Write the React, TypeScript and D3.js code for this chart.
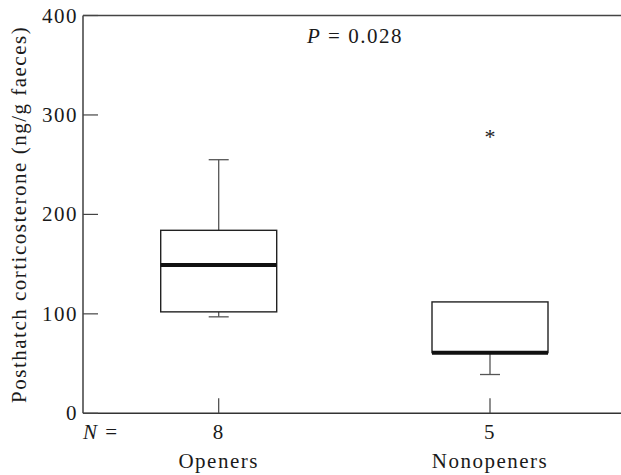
import * as d3 from 'd3'
import { useEffect, useRef } from 'react'

// box plot values (ng/g faeces)
const categories = ['Openers', 'Nonopeners']
const sampleSizes = [8, 5]
const whiskerLow = [97, 39]
const quartile1 = [102, 61]
const medians = [149, 61]
const quartile3 = [184, 112]
const whiskerHigh = [255, 112]
const outliers = [[], [282]]
const yTicks = [0, 100, 200, 300, 400]

const width = 621
const height = 475
const font = '"Liberation Serif", serif'
const fontSize = '21px'
const tracking = '1.5px'

export default function App () {
    const svgRef = useRef<SVGSVGElement>(null)

    useEffect(() => {
        const svg = d3.select(svgRef.current)
        svg.selectAll('*').remove()

        const left = 83
        const y = d3.scaleLinear().domain([0, 400]).range([413.3, 15.5])
        const x = d3.scalePoint().domain(categories).range([218.7, 490])
        const boxW = 116
        const capW = 20

        const g = svg.append('g')

        const label = (sel: any) => sel
            .style('font-family', font).style('font-size', fontSize)
            .style('letter-spacing', tracking).attr('fill', '#1a1a1a')

        // frame: left axis, bottom axis, top line
        g.append('line').attr('x1', left).attr('x2', left).attr('y1', y(400)).attr('y2', y(0))
            .attr('stroke', '#333').attr('stroke-width', 1.4)
        g.append('line').attr('x1', left).attr('x2', width).attr('y1', y(0)).attr('y2', y(0))
            .attr('stroke', '#333').attr('stroke-width', 1.4)
        g.append('line').attr('x1', left).attr('x2', width).attr('y1', y(400)).attr('y2', y(400))
            .attr('stroke', '#444').attr('stroke-width', 1.4)

        // y ticks point inward
        g.selectAll('.ytick').data(yTicks).join('line')
            .attr('x1', left).attr('x2', left + 15)
            .attr('y1', d => y(d)).attr('y2', d => y(d))
            .attr('stroke', '#444').attr('stroke-width', 1.2)
        g.selectAll('.ylab').data(yTicks).join('text')
            .attr('x', left - 5).attr('y', d => y(d) + 7)
            .attr('text-anchor', 'end')
            .call(label)
            .text(d => d)

        // x ticks point upward
        g.selectAll('.xtick').data(categories).join('line')
            .attr('x1', d => x(d)!).attr('x2', d => x(d)!)
            .attr('y1', y(0)).attr('y2', y(0) - 15)
            .attr('stroke', '#444').attr('stroke-width', 1.2)

        const n = g.append('text').attr('x', left).attr('y', 439).call(label)
        n.append('tspan').style('font-style', 'italic').text('N')
        n.append('tspan').text(' =')

        g.selectAll('.nlab').data(categories).join('text')
            .attr('x', d => x(d)!).attr('y', 439).attr('text-anchor', 'middle')
            .call(label)
            .text((d, i) => sampleSizes[i])
        g.selectAll('.clab').data(categories).join('text')
            .attr('x', d => x(d)!).attr('y', 468).attr('text-anchor', 'middle')
            .call(label)
            .text(d => d)

        // y axis title
        g.append('text')
            .attr('transform', `translate(26,${(y(0) + y(400)) / 2}) rotate(-90)`)
            .attr('text-anchor', 'middle')
            .call(label)
            .text('Posthatch corticosterone (ng/g faeces)')

        // P value
        const p = g.append('text').attr('x', 307).attr('y', 43).call(label)
        p.append('tspan').style('font-style', 'italic').text('P')
        p.append('tspan').text(' = 0.028')

        // boxes
        categories.forEach((c, i) => {
            const cx = x(c)!
            // whiskers
            if (whiskerHigh[i] > quartile3[i]) {
                g.append('line').attr('x1', cx).attr('x2', cx).attr('y1', y(quartile3[i])).attr('y2', y(whiskerHigh[i]))
                    .attr('stroke', '#555').attr('stroke-width', 1.3)
                g.append('line').attr('x1', cx - capW / 2).attr('x2', cx + capW / 2)
                    .attr('y1', y(whiskerHigh[i])).attr('y2', y(whiskerHigh[i]))
                    .attr('stroke', '#555').attr('stroke-width', 1.3)
            }
            if (whiskerLow[i] < quartile1[i]) {
                g.append('line').attr('x1', cx).attr('x2', cx).attr('y1', y(quartile1[i])).attr('y2', y(whiskerLow[i]))
                    .attr('stroke', '#555').attr('stroke-width', 1.3)
                g.append('line').attr('x1', cx - capW / 2).attr('x2', cx + capW / 2)
                    .attr('y1', y(whiskerLow[i])).attr('y2', y(whiskerLow[i]))
                    .attr('stroke', '#555').attr('stroke-width', 1.3)
            }
            g.append('rect')
                .attr('x', cx - boxW / 2).attr('width', boxW)
                .attr('y', y(quartile3[i])).attr('height', y(quartile1[i]) - y(quartile3[i]))
                .attr('fill', 'white').attr('stroke', '#222').attr('stroke-width', 1.4)
            g.append('line').attr('x1', cx - boxW / 2).attr('x2', cx + boxW / 2)
                .attr('y1', y(medians[i])).attr('y2', y(medians[i]))
                .attr('stroke', '#111').attr('stroke-width', 4)
            outliers[i].forEach(v => {
                g.append('text').attr('x', cx).attr('y', y(v) + 11).attr('text-anchor', 'middle')
                    .style('font-family', font).style('font-size', '22px').attr('fill', '#222')
                    .text('*')
            })
        })
    }, [])

    return (
        <svg ref={svgRef} width={width} height={height}
            style={{ position: 'absolute', left: 0, top: 0, background: 'white' }} />
    )
}
